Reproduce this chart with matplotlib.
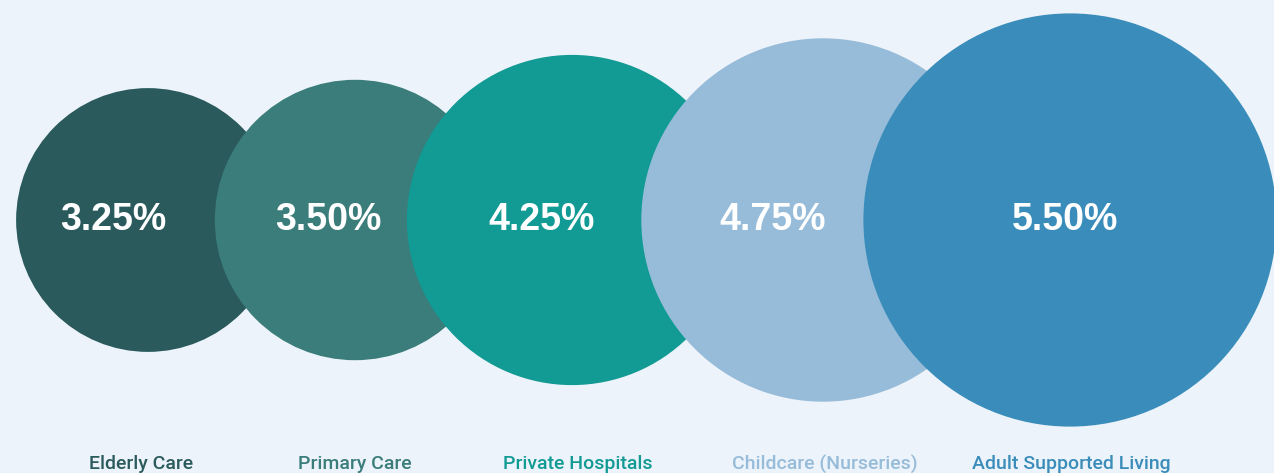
import matplotlib
matplotlib.use("Agg")
import matplotlib.pyplot as plt
from matplotlib.patches import Circle

# growth rates by sector
sectors = ["Elderly Care", "Primary Care", "Private Hospitals",
           "Childcare (Nurseries)", "Adult Supported Living"]
rates = [3.25, 3.50, 4.25, 4.75, 5.50]

colors = ["#2A5A5C", "#3A7D7A", "#129A94", "#97BCD9", "#3A8DBA"]
bg = "#EDF3FA"

# canvas in pixel units
W, H = 1274, 473
slot_x = [148, 355, 572, 823, 1070]   # bubble centre per sector
label_shift = [-35, -27, -30, -50, -5]  # value text sits left of centre
name_shift = [-7, 0, 6, 2, 1]
cy = 220

def radius(v):
    return 24 + 33.2 * v

fig = plt.figure(figsize=(W / 100, H / 100), dpi=100, facecolor=bg)
ax = fig.add_axes([0, 0, 1, 1])
ax.set_facecolor(bg)
ax.set_xlim(0, W)
ax.set_ylim(H, 0)
ax.set_aspect("equal")
ax.axis("off")

for i, (name, v, c) in enumerate(zip(sectors, rates, colors)):
    x = slot_x[i]
    ax.add_patch(Circle((x, cy), radius(v), facecolor=c, edgecolor="none", zorder=i + 1))
    ax.text(x + label_shift[i], cy, f"{v:.2f}%", color="white", fontsize=27,
            fontweight="bold", family="Liberation Sans", ha="center", va="center",
            zorder=10)
    ax.text(x + name_shift[i], 464, name, color=c, fontsize=14, fontweight="medium",
            family="Roboto", ha="center", va="center", zorder=10)

fig.savefig("out.png", dpi=100, facecolor=bg)
